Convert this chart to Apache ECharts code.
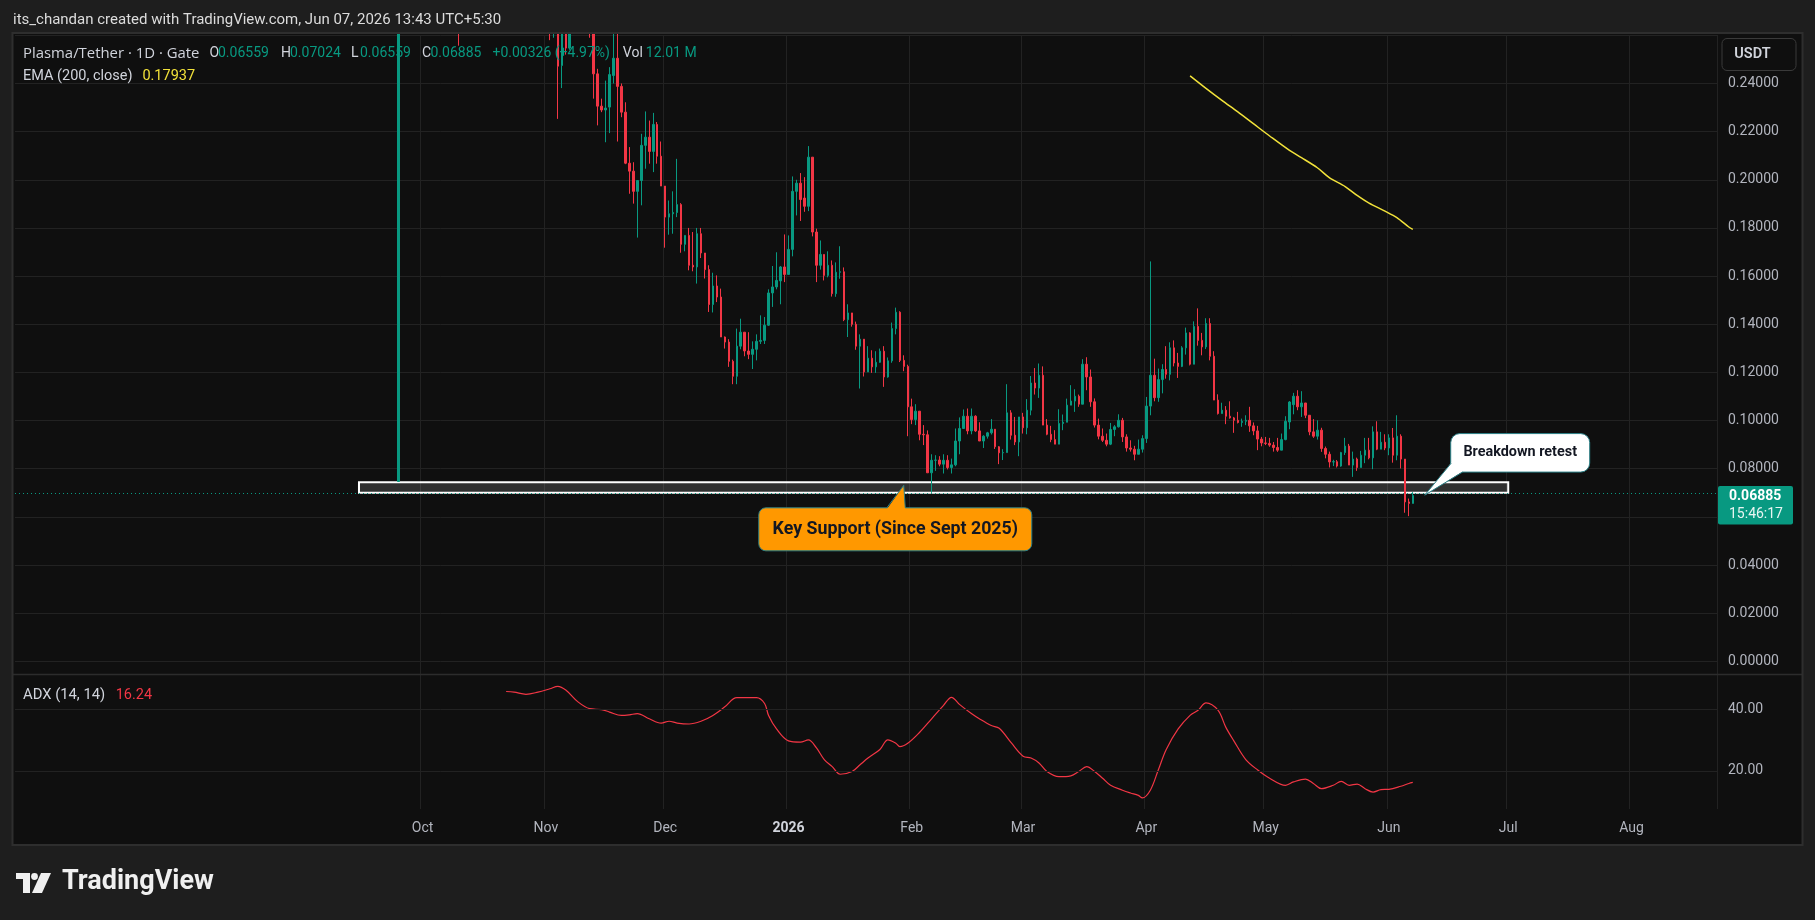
<!DOCTYPE html>
<html><head><meta charset="utf-8">
<script src="https://cdn.jsdelivr.net/npm/echarts@6/dist/echarts.min.js"></script>
<style>html,body{margin:0;padding:0;background:#1e1e1e;overflow:hidden}#c{width:1815px;height:920px}</style>
</head><body><div id="c"></div>
<script>
// ---------------- DATA ----------------
const axisStart = '2025-06-21';
const axisDays = 428;
const candleStart = '2025-09-25';
const monthNames = ['Jan','Feb','Mar','Apr','May','Jun','Jul','Aug','Sep','Oct','Nov','Dec'];
const firstLabelDate = '2025-10-01';

const opens = [
0.0747,0.85,1.20,1.28,1.45,1.22,1.02,0.95,0.92,0.88,
0.84,0.86,0.80,0.72,0.68,0.62,0.48,0.50,0.47,0.50,
0.44,0.42,0.40,0.37,0.38,0.35,0.34,0.33,0.345,0.325,
0.33,0.315,0.30,0.31,0.29,0.285,0.295,0.275,0.27,0.265,
0.268,0.2475,0.275,0.2547,0.285,0.30,0.29,0.285,0.275,0.268,
0.244,0.2306,0.229,0.2302,0.2433,0.2505,0.2388,0.2281,0.2069,0.2036,
0.1952,0.1997,0.2143,0.2177,0.2118,0.223,0.2098,0.1974,0.1845,0.1859,
0.1864,0.1897,0.1732,0.1769,0.1645,0.1638,0.1776,0.1696,0.1627,0.1482,
0.1559,0.1513,0.1347,0.1326,0.1246,0.1184,0.1309,0.1367,0.1289,0.1275,
0.1296,0.1329,0.1333,0.1396,0.153,0.1555,0.158,0.1638,0.1607,0.1711,
0.1952,0.1986,0.1924,0.189,0.2094,0.1783,0.1645,0.169,0.1603,0.1645,
0.1527,0.1616,0.1618,0.1419,0.1447,0.14,0.1309,0.1338,0.1202,0.1259,
0.1223,0.1242,0.1288,0.1181,0.1248,0.1382,0.145,0.125,0.1225,0.1057,
0.1004,0.1039,0.0943,0.0941,0.0783,0.0835,0.0836,0.0819,0.0835,0.0805,
0.0816,0.0915,0.0967,0.1018,0.0957,0.1018,0.0957,0.0915,0.0935,0.0949,
0.0964,0.0891,0.0866,0.0867,0.1032,0.0939,0.0911,0.1015,0.097,0.1043,
0.1156,0.1135,0.1188,0.0981,0.0943,0.0921,0.0902,0.0988,0.0993,0.1064,
0.1081,0.1101,0.1068,0.1234,0.1181,0.1078,0.0981,0.0935,0.0918,0.0902,
0.0963,0.0974,0.1001,0.0932,0.0886,0.0881,0.086,0.0881,0.0925,0.106,
0.1188,0.1095,0.117,0.1212,0.1192,0.1302,0.1239,0.1225,0.1302,0.1364,
0.1234,0.1391,0.1333,0.1306,0.1403,0.1267,0.1085,0.1029,0.1043,0.1018,
0.1011,0.1001,0.0992,0.0997,0.1001,0.0978,0.0957,0.0923,0.0907,0.0905,
0.0898,0.0888,0.0877,0.0921,0.0994,0.1066,0.1101,0.1057,0.1073,0.1022,
0.0953,0.0935,0.096,0.0884,0.086,0.0828,0.0829,0.0811,0.0867,0.0894,
0.0815,0.084,0.0805,0.0856,0.0877,0.0845,0.0953,0.0881,0.091,0.0886,
0.0928,0.0856,0.0935,0.084,0.0662,0.06559];
const highs = [
1.05,1.25,1.35,1.69,1.50,1.28,1.08,1.02,0.98,0.92,
0.90,0.88,0.82,0.76,0.72,0.64,0.55,0.54,0.52,0.51,
0.46,0.45,0.42,0.40,0.39,0.37,0.36,0.35,0.36,0.34,
0.345,0.32,0.32,0.315,0.30,0.30,0.30,0.285,0.275,0.272,
0.272,0.28,0.285,0.29,0.305,0.31,0.30,0.29,0.28,0.272,
0.2461,0.2337,0.2412,0.2468,0.265,0.262,0.240,0.2322,0.2136,0.2073,
0.1997,0.2191,0.2284,0.2246,0.2278,0.224,0.2159,0.1974,0.1914,0.1952,
0.2087,0.1903,0.1769,0.18,0.1783,0.18,0.18,0.1696,0.1645,0.1614,
0.1603,0.1548,0.1349,0.1338,0.1253,0.1382,0.1423,0.1367,0.1367,0.1329,
0.1358,0.1437,0.143,0.1545,0.1642,0.1699,0.1642,0.1773,0.1769,0.2014,
0.2,0.2028,0.2011,0.214,0.2094,0.1797,0.1748,0.169,0.1703,0.1665,
0.1657,0.1724,0.1636,0.1483,0.1447,0.1411,0.1358,0.1338,0.1309,0.1292,
0.1288,0.1299,0.1309,0.1262,0.1407,0.1469,0.1454,0.1271,0.1232,0.1091,
0.1068,0.1039,0.0981,0.0959,0.086,0.0856,0.0852,0.086,0.0856,0.0842,
0.0967,0.1013,0.1046,0.105,0.105,0.1022,0.0993,0.0939,0.0953,0.1006,
0.0964,0.0894,0.0881,0.1151,0.1043,0.1015,0.1015,0.1032,0.1089,0.1185,
0.1218,0.1237,0.1225,0.1006,0.0978,0.096,0.1047,0.1025,0.1091,0.1147,
0.113,0.1108,0.1255,0.1263,0.1212,0.1092,0.1008,0.0967,0.0946,0.099,
0.0981,0.1026,0.1011,0.0943,0.0918,0.0895,0.0921,0.0939,0.1098,0.1661,
0.1257,0.1216,0.1234,0.1309,0.1325,0.1333,0.1281,0.1309,0.1386,0.1367,
0.1412,0.1466,0.1364,0.1425,0.1425,0.1288,0.1109,0.1074,0.106,0.108,
0.1015,0.1036,0.1008,0.1022,0.1057,0.0992,0.0978,0.0932,0.0932,0.0928,
0.0911,0.0928,0.0946,0.1018,0.1081,0.1115,0.1126,0.1122,0.1073,0.1022,
0.1006,0.1001,0.097,0.0892,0.0871,0.0837,0.0836,0.087,0.0928,0.0903,
0.0871,0.0846,0.0874,0.0928,0.0928,0.0976,0.0997,0.0953,0.0943,0.0943,
0.0969,0.1022,0.0943,0.084,0.0676,0.07024];
const lows = [
0.0747,0.80,1.05,1.22,1.18,0.98,0.88,0.86,0.85,0.80,
0.80,0.78,0.70,0.66,0.60,0.2557,0.44,0.46,0.45,0.43,
0.40,0.39,0.36,0.35,0.34,0.33,0.32,0.31,0.32,0.31,
0.31,0.29,0.29,0.285,0.275,0.275,0.27,0.262,0.258,0.259,
0.2253,0.2381,0.252,0.254,0.28,0.285,0.275,0.27,0.259,0.2337,
0.2226,0.2281,0.2156,0.2194,0.24,0.2159,0.226,0.2065,0.1942,0.1901,
0.176,0.1894,0.2046,0.2067,0.2032,0.2067,0.1974,0.1718,0.1772,0.1776,
0.1845,0.1697,0.1703,0.1624,0.162,0.1569,0.1675,0.159,0.1451,0.1449,
0.1492,0.1347,0.1299,0.1223,0.1151,0.1151,0.1296,0.1267,0.1255,0.1214,
0.125,0.1318,0.1318,0.1393,0.1472,0.1545,0.1483,0.1575,0.1607,0.1682,
0.1852,0.1829,0.1867,0.187,0.1765,0.1575,0.1627,0.1582,0.1595,0.1515,
0.1514,0.1589,0.1413,0.1347,0.139,0.1294,0.1133,0.1183,0.1202,0.1198,
0.1198,0.124,0.114,0.1178,0.124,0.1358,0.1243,0.1205,0.0935,0.0985,
0.0981,0.0918,0.0898,0.0783,0.070,0.0791,0.081,0.078,0.0797,0.078,
0.081,0.086,0.0967,0.0943,0.0943,0.0953,0.0915,0.0886,0.0925,0.0942,
0.0882,0.0819,0.0836,0.0867,0.0921,0.0898,0.0852,0.0946,0.0943,0.1022,
0.1108,0.1094,0.0981,0.0939,0.091,0.0902,0.0902,0.096,0.0993,0.1064,
0.1036,0.1057,0.1068,0.1126,0.1057,0.0971,0.0922,0.0911,0.0893,0.0898,
0.0935,0.0971,0.0911,0.0871,0.0871,0.0835,0.086,0.0867,0.0907,0.1022,
0.108,0.1078,0.1113,0.1174,0.1167,0.1225,0.1177,0.1222,0.1274,0.1229,
0.1234,0.1311,0.1271,0.1297,0.125,0.1085,0.1025,0.1029,0.0985,0.1008,
0.0949,0.0988,0.0974,0.0981,0.0953,0.0939,0.0877,0.0893,0.0898,0.0891,
0.0871,0.087,0.0877,0.0918,0.0964,0.1026,0.1043,0.1015,0.101,0.0939,
0.0928,0.0921,0.087,0.0843,0.0805,0.0811,0.0805,0.0808,0.0857,0.0815,
0.0766,0.0791,0.0805,0.0823,0.0839,0.0798,0.0877,0.0881,0.0877,0.0856,
0.0825,0.0835,0.0801,0.0617,0.0603,0.06559];
const closes = [
0.85,1.20,1.28,1.45,1.22,1.02,0.95,0.92,0.88,0.84,
0.86,0.80,0.72,0.68,0.62,0.48,0.50,0.47,0.50,0.44,
0.42,0.40,0.37,0.38,0.35,0.34,0.33,0.345,0.325,0.33,
0.315,0.30,0.31,0.29,0.285,0.295,0.275,0.27,0.265,0.268,
0.2472,0.275,0.2547,0.285,0.30,0.29,0.285,0.275,0.268,0.244,
0.2306,0.229,0.2298,0.2437,0.2505,0.2388,0.2281,0.2069,0.2036,0.1952,
0.1997,0.2143,0.2177,0.2118,0.223,0.2098,0.1974,0.1845,0.1859,0.1864,
0.1897,0.1732,0.1769,0.1645,0.1638,0.1776,0.1696,0.1627,0.1482,0.1559,
0.1513,0.1347,0.1326,0.1246,0.1184,0.1309,0.1367,0.1289,0.1275,0.1296,
0.1329,0.1333,0.1396,0.153,0.1555,0.1582,0.1638,0.1607,0.1711,0.1952,
0.1986,0.1918,0.189,0.2094,0.1783,0.1645,0.169,0.1603,0.1645,0.1527,
0.1616,0.1618,0.1419,0.1447,0.14,0.1309,0.1338,0.1202,0.1259,0.1223,
0.1242,0.1288,0.1181,0.1248,0.1382,0.145,0.125,0.1225,0.1057,0.1004,
0.1039,0.0943,0.0941,0.0783,0.0835,0.0836,0.0819,0.0835,0.0805,0.0816,
0.0915,0.0967,0.1018,0.0957,0.1018,0.0957,0.0915,0.0935,0.0949,0.0964,
0.0891,0.0866,0.0867,0.1032,0.0939,0.0911,0.1015,0.097,0.1043,0.1156,
0.1135,0.1188,0.0981,0.0943,0.0921,0.0902,0.0988,0.0993,0.1064,0.1081,
0.1101,0.1068,0.1234,0.1181,0.1078,0.0981,0.0935,0.0918,0.0902,0.0963,
0.0974,0.1001,0.0932,0.0886,0.0881,0.086,0.0881,0.0925,0.106,0.1188,
0.1095,0.117,0.1212,0.1192,0.1302,0.1239,0.1225,0.1302,0.1364,0.1234,
0.1391,0.1333,0.1306,0.1403,0.1267,0.1085,0.1029,0.1043,0.1018,0.1011,
0.1001,0.0992,0.0997,0.1001,0.0978,0.0957,0.0923,0.0907,0.0905,0.0898,
0.0888,0.0877,0.0921,0.0997,0.1077,0.1101,0.1057,0.1073,0.1022,0.0953,
0.0935,0.096,0.0884,0.086,0.0828,0.0829,0.0811,0.0867,0.0894,0.0815,
0.084,0.0805,0.0856,0.0877,0.0845,0.0953,0.0881,0.091,0.0886,0.0928,
0.0856,0.0935,0.084,0.0662,0.06559,0.06885];

const emaDates = ['2026-04-12','2026-04-16','2026-04-20','2026-04-24','2026-04-28','2026-05-02','2026-05-07','2026-05-10','2026-05-14','2026-05-17','2026-05-21','2026-05-24','2026-05-27','2026-05-31','2026-06-03','2026-06-06','2026-06-07'];
const emaValues = [0.2432,0.2380,0.2330,0.2282,0.2232,0.2182,0.2122,0.2092,0.2050,0.2009,0.1972,0.1935,0.1903,0.1870,0.1843,0.1804,0.17937];

const adxDates = ['2025-10-22','2025-10-24','2025-10-27','2025-10-30','2025-11-02','2025-11-04','2025-11-06','2025-11-09','2025-11-12','2025-11-15','2025-11-17','2025-11-20','2025-11-22','2025-11-24','2025-11-27','2025-11-30','2025-12-02','2025-12-04','2025-12-07','2025-12-10','2025-12-13','2025-12-16','2025-12-19','2025-12-22','2025-12-24','2025-12-26','2025-12-27','2025-12-29','2026-01-01','2026-01-04','2026-01-06','2026-01-08','2026-01-10','2026-01-12','2026-01-14','2026-01-17','2026-01-19','2026-01-21','2026-01-24','2026-01-26','2026-01-28','2026-01-29','2026-01-31','2026-02-03','2026-02-06','2026-02-09','2026-02-11','2026-02-13','2026-02-16','2026-02-18','2026-02-21','2026-02-23','2026-02-26','2026-03-01','2026-03-03','2026-03-05','2026-03-07','2026-03-10','2026-03-13','2026-03-15','2026-03-17','2026-03-19','2026-03-21','2026-03-23','2026-03-26','2026-03-28','2026-03-30','2026-03-31','2026-04-02','2026-04-04','2026-04-06','2026-04-09','2026-04-12','2026-04-14','2026-04-16','2026-04-19','2026-04-21','2026-04-23','2026-04-26','2026-04-29','2026-05-02','2026-05-06','2026-05-08','2026-05-11','2026-05-13','2026-05-15','2026-05-18','2026-05-20','2026-05-22','2026-05-24','2026-05-26','2026-05-28','2026-05-30','2026-06-01','2026-06-04','2026-06-06','2026-06-07'];
const adxValues = [45.9,45.7,45.0,45.7,46.8,47.6,46.4,42.6,40.3,40.0,39.2,38.1,38.3,38.7,37.0,35.6,36.2,35.6,35.3,36.2,38.1,40.9,43.9,43.9,43.9,42.0,38.1,33.7,29.8,29.4,30.1,27.6,23.7,21.4,18.9,19.8,22.0,24.2,27.0,30.1,29.0,27.9,29.0,32.6,37.0,41.4,44.0,41.7,38.7,37.0,34.8,33.9,29.2,24.8,24.2,22.6,19.8,18.1,18.4,19.8,21.4,19.8,17.6,15.3,13.7,12.8,12.0,11.2,13.7,20.3,27.0,33.7,38.1,39.8,42.2,39.8,34.2,29.8,23.7,20.3,17.6,15.3,16.4,17.3,15.9,14.2,15.3,16.6,15.3,15.7,14.2,13.1,13.9,14.0,15.0,15.9,16.24];

const priceMin = 0, priceMax = 0.26, priceStep = 0.02;
const adxMin = 0, adxMax = 60, adxStep = 20;
const adxGridValues = [20, 40];
const supportZone = {from: '2025-09-15', to: '2026-07-01', low: 0.0700, high: 0.0744};
const lastClose = 0.06885;
const keySupportAnchor = ['2026-01-30', 0.0731];
const retestAnchor = ['2026-06-10', 0.0690];

// ---------------- BUILD ----------------
const DAY = 86400000;
const base = Date.parse(axisStart + 'T00:00:00Z');
const cats = Array.from({length: axisDays}, (_, i) => new Date(base + i * DAY).toISOString().slice(0, 10));
const off = cats.indexOf(candleStart);
const candleData = cats.map((c, i) => {
  const k = i - off;
  return (k >= 0 && k < opens.length) ? [opens[k], closes[k], lows[k], highs[k]] : '-';
});
const isMonthStart = v => v.slice(8) === '01' && v >= firstLabelDate;

const UP = '#089981', DOWN = '#f23645', GRIDC = '#222222', TXT = '#b2b5be';
const FONT = 'Roboto, "Noto Sans", "DejaVu Sans", sans-serif';
const L = 15, W = 1702;

const chart = echarts.init(document.getElementById('c'), null, {renderer: 'canvas'});
const option = {
  backgroundColor: '#1e1e1e',
  animation: false,
  textStyle: {fontFamily: FONT},
  grid: [
    {left: L, width: W, top: 35.35, height: 625.95},
    {left: L, width: W, top: 648.3, height: 183.9},
    {left: L, width: W, top: 35, height: 774}
  ],
  xAxis: [
    {gridIndex: 0, type: 'category', data: cats, show: false, boundaryGap: true},
    {gridIndex: 1, type: 'category', data: cats, show: false, boundaryGap: true},
    {gridIndex: 2, type: 'category', data: cats, boundaryGap: true,
      axisLine: {show: false}, axisTick: {show: false},
      axisLabel: {interval: (i, v) => isMonthStart(v), color: TXT, fontSize: 14, margin: 12,
        formatter: v => { const m = +v.slice(5, 7); return m === 1 ? '{y|' + v.slice(0, 4) + '}' : monthNames[m - 1]; },
        rich: {y: {fontWeight: 'bold', color: '#d1d4dc', fontSize: 14}}},
      splitLine: {show: true, interval: (i, v) => isMonthStart(v), lineStyle: {color: GRIDC, width: 1}}}
  ],
  yAxis: [
    {gridIndex: 0, type: 'value', position: 'right', min: priceMin, max: priceMax, interval: priceStep,
      axisLine: {show: false}, axisTick: {show: false},
      axisLabel: {color: TXT, fontSize: 14, margin: 11, formatter: v => v > priceMax - 0.001 ? '' : v.toFixed(5)},
      splitLine: {lineStyle: {color: GRIDC, width: 1}}},
    {gridIndex: 1, type: 'value', position: 'right', min: adxMin, max: adxMax, interval: adxStep,
      axisLine: {show: false}, axisTick: {show: false}, splitLine: {show: false},
      axisLabel: {color: TXT, fontSize: 14, margin: 11, formatter: v => adxGridValues.includes(v) ? v.toFixed(2) : ''}},
    {gridIndex: 2, type: 'value', show: false, min: 0, max: 1}
  ],
  series: [
    {type: 'candlestick', xAxisIndex: 0, yAxisIndex: 0, data: candleData, barWidth: 2, clip: true,
      itemStyle: {color: UP, color0: DOWN, borderColor: UP, borderColor0: DOWN, borderWidth: 1},
      markArea: {silent: true, itemStyle: {color: 'rgba(255,255,255,0.14)', borderColor: '#ffffff', borderWidth: 2},
        data: [[{xAxis: supportZone.from, yAxis: supportZone.high}, {xAxis: supportZone.to, yAxis: supportZone.low}]]},
      markLine: {silent: true, symbol: ['none', 'none'], label: {show: false},
        lineStyle: {color: UP, type: [1, 3], width: 1}, data: [{yAxis: lastClose}]}
    },
    {type: 'line', name: 'EMA', xAxisIndex: 0, yAxisIndex: 0, symbol: 'none', smooth: 0.3,
      data: emaDates.map((d, i) => [d, emaValues[i]]), lineStyle: {color: '#f2e23a', width: 1.5}},
    {type: 'line', name: 'ADX', xAxisIndex: 1, yAxisIndex: 1, symbol: 'none', smooth: 0.35,
      data: adxDates.map((d, i) => [d, adxValues[i]]), lineStyle: {color: DOWN, width: 1.2},
      markLine: {silent: true, symbol: ['none', 'none'], label: {show: false},
        lineStyle: {color: GRIDC, type: 'solid', width: 1}, data: adxGridValues.map(v => ({yAxis: v}))}},
    {type: 'line', xAxisIndex: 2, yAxisIndex: 2, data: []}
  ]
};
chart.setOption(option);

const px = v => chart.convertToPixel({gridIndex: 0}, v);
const py = chart.convertToPixel({yAxisIndex: 0}, lastClose);
const t1 = px(keySupportAnchor);
const t2 = px(retestAnchor);

const txt = (text, x, y, fill, font, align) => ({type: 'text', z: 100, style: {text, x, y, fill, font, textAlign: align || 'left', textVerticalAlign: 'middle'}});
const F = (s, w, fam) => (w || 'normal') + ' ' + s + 'px ' + (fam || FONT);
const OPEN = '"Open Sans", Roboto, sans-serif';
const G = [];
// chart frame
G.push({type: 'rect', z: -10, shape: {x: 12.5, y: 33, width: 1790, height: 812}, style: {fill: '#0f0f0f'}});
G.push({type: 'rect', z: 90, shape: {x: 0, y: 0, width: 1815, height: 32}, style: {fill: '#1e1e1e'}});
G.push({type: 'rect', z: 91, shape: {x: 12.5, y: 33, width: 1790, height: 812}, style: {fill: null, stroke: '#2e2e2e', lineWidth: 2}});
G.push({type: 'line', z: 50, shape: {x1: 13, y1: 674.5, x2: 1802, y2: 674.5}, style: {stroke: '#2c2c2c', lineWidth: 1.5}});
// header
G.push(txt('its_chandan created with TradingView.com, Jun 07, 2026 13:43 UTC+5:30', 13, 20, '#dcdcdc', F(15)));
// legend
const LY = 53.5, GR = '#d1d4dc';
G.push(txt('Plasma/Tether · 1D · Gate', 23, LY, GR, F(14.9, 'normal', OPEN)));
[['O', 209.5, '0.06559', 218], ['H', 281, '0.07024', 290], ['L', 351, '0.06559', 360], ['C', 422, '0.06885', 430.5]].forEach(a => {
  G.push(txt(a[0], a[1], LY, GR, F(14)));
  G.push(txt(a[2], a[3], LY, UP, F(14)));
});
G.push(txt('+0.00326 (+4.97%)', 492.5, LY, UP, F(14)));
G.push(txt('Vol', 622.8, LY, GR, F(14)));
G.push(txt('12.01 M', 645.8, LY, UP, F(14)));
G.push(txt('EMA (200, close)', 23, 76, GR, F(14.5)));
G.push(txt('0.17937', 142.4, 76, '#f2e23a', F(14.5)));
G.push(txt('ADX (14, 14)', 23, 695, GR, F(14.8)));
G.push(txt('16.24', 115.7, 695, DOWN, F(14.5)));
// USDT box
G.push({type: 'rect', z: 100, shape: {x: 1722, y: 38.5, width: 74, height: 32, r: 5}, style: {fill: '#0f0f0f', stroke: '#3a3a3a', lineWidth: 1}});
G.push(txt('USDT', 1752.5, 54.5, '#d1d4dc', F(14.5, '600'), 'center'));
// last price label
G.push({type: 'rect', z: 100, shape: {x: 1718, y: py - 9.5, width: 75, height: 38.5, r: 2}, style: {fill: UP}});
G.push(txt('0.06885', 1729, py + 1, '#ffffff', F(14, 'bold')));
G.push(txt('15:46:17', 1729, py + 18.5, '#e8f5f2', F(14)));
// Key support callout
const TEAL = '#2a7f86';
G.push({type: 'rect', z: 100, shape: {x: t1[0] - 145, y: t1[1] + 22.5, width: 273, height: 43, r: 7}, style: {fill: '#ff9800', stroke: TEAL, lineWidth: 1}});
G.push({type: 'polygon', z: 101, shape: {points: [[t1[0] - 17, t1[1] + 24], [t1[0], t1[1]], [t1[0] + 1.5, t1[1] + 24]]}, style: {fill: '#ff9800'}});
G.push({type: 'polyline', z: 101, shape: {points: [[t1[0] - 17, t1[1] + 22.5], [t1[0], t1[1]], [t1[0] + 1.5, t1[1] + 22.5]]}, style: {stroke: TEAL, lineWidth: 1, fill: null}});
G.push(txt('Key Support (Since Sept 2025)', t1[0] - 8.5, t1[1] + 44.5, '#131722', F(17.8, 'bold'), 'center'));
// Breakdown retest callout
G.push({type: 'rect', z: 100, shape: {x: t2[0] + 26, y: t2[1] - 61.6, width: 139, height: 38.5, r: 9}, style: {fill: '#ffffff', stroke: TEAL, lineWidth: 1}});
G.push({type: 'polygon', z: 101, shape: {points: [[t2[0] + 27, t2[1] - 33], [t2[0], t2[1]], [t2[0] + 38, t2[1] - 23.8]]}, style: {fill: '#ffffff'}});
G.push({type: 'polyline', z: 101, shape: {points: [[t2[0] + 26.5, t2[1] - 32], [t2[0], t2[1]], [t2[0] + 38, t2[1] - 23.2]]}, style: {stroke: TEAL, lineWidth: 1, fill: null}});
G.push(txt('Breakdown retest', t2[0] + 95.5, t2[1] - 42.3, '#131722', F(14.4, 'bold'), 'center'));
// TradingView logo
G.push({type: 'rect', z: 100, shape: {x: 16, y: 873, width: 14, height: 6}, style: {fill: '#f0f0f0'}});
G.push({type: 'rect', z: 100, shape: {x: 23, y: 873, width: 7, height: 20}, style: {fill: '#f0f0f0'}});
G.push({type: 'circle', z: 100, shape: {cx: 34.5, cy: 876.5, r: 3.4}, style: {fill: '#f0f0f0'}});
G.push({type: 'polygon', z: 100, shape: {points: [[41, 873], [51, 873], [42, 893], [32, 893]]}, style: {fill: '#f0f0f0'}});
G.push(txt('TradingView', 62, 882, '#f0f0f0', F(27, 'bold')));

chart.setOption({graphic: {elements: G}});
</script>
</body></html>
